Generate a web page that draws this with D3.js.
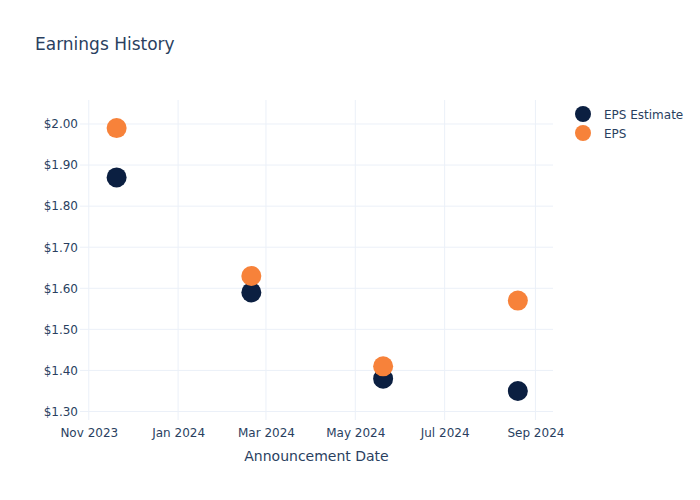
<!DOCTYPE html>
<html><head><meta charset="utf-8">
<script src="https://cdn.jsdelivr.net/npm/d3@7"></script>
<style>body{margin:0;background:#fff}svg{font-family:"DejaVu Sans",sans-serif}</style>
</head><body><svg id="c" width="700" height="500"></svg>
<script>
const dates = ["2023-11-20","2024-02-20","2024-05-20","2024-08-20"];
const epsEstimate = [1.87,1.59,1.38,1.35];
const eps = [1.99,1.63,1.41,1.57];
const yTicks = [1.30,1.40,1.50,1.60,1.70,1.80,1.90,2.00];
const xTicks = ["2023-11-01","2024-01-01","2024-03-01","2024-05-01","2024-07-01","2024-09-01"];
const seriesNames = ["EPS Estimate","EPS"];
const colors = ["#0b1f41","#f7823a"];

const svg = d3.select("#c");
const L=80,R=553,T=100,B=420;
const parse = d3.utcParse("%Y-%m-%d");
const x = d3.scaleUtc().domain([parse("2023-10-26"), parse("2024-09-13")]).range([L,R]);
const y = d3.scaleLinear().domain([1.2793,2.0584]).range([B,T]);
const txt="#2a3f5f", grid="#ebf0f8";

// grid
svg.append("g").selectAll("line").data(xTicks).join("line")
  .attr("x1",d=>x(parse(d))).attr("x2",d=>x(parse(d))).attr("y1",T).attr("y2",B)
  .attr("stroke",grid).attr("stroke-width",1);
svg.append("g").selectAll("line").data(yTicks).join("line")
  .attr("x1",L).attr("x2",R).attr("y1",d=>y(d)).attr("y2",d=>y(d))
  .attr("stroke",grid).attr("stroke-width",1);

// axes
const xa = svg.append("g").attr("transform",`translate(0,${B})`)
  .call(d3.axisBottom(x).tickValues(xTicks.map(parse)).tickFormat(d3.utcFormat("%b %Y")).tickSize(0).tickPadding(8));
xa.attr("font-family",null).attr("font-size",null);
xa.select(".domain").remove();
xa.selectAll("text").attr("fill",txt).attr("font-size",12);
const ya = svg.append("g").attr("transform",`translate(${L},0)`)
  .call(d3.axisLeft(y).tickValues(yTicks).tickFormat(d=>"$"+d.toFixed(2)).tickSize(0).tickPadding(2));
ya.attr("font-family",null).attr("font-size",null);
ya.select(".domain").remove();
ya.selectAll("text").attr("fill",txt).attr("font-size",12);

// points
[epsEstimate, eps].forEach((vals,i)=>{
  svg.append("g").selectAll("circle").data(vals).join("circle")
    .attr("cx",(d,j)=>x(parse(dates[j]))).attr("cy",d=>y(d)).attr("r",10)
    .attr("fill",colors[i]);
});

// title
svg.append("text").attr("x",35).attr("y",50).attr("fill",txt).attr("font-size",17).text("Earnings History");
svg.append("text").attr("x",(L+R)/2).attr("y",461).attr("text-anchor","middle").attr("fill",txt).attr("font-size",14).text("Announcement Date");

// legend
const lg = svg.append("g").selectAll("g").data(seriesNames).join("g")
  .attr("transform",(d,i)=>`translate(583,${114+i*19})`);
lg.append("circle").attr("r",8).attr("fill",(d,i)=>colors[i]);
lg.append("text").attr("x",21).attr("y",4.5).attr("fill",txt).attr("font-size",12).text(d=>d);
</script></body></html>
